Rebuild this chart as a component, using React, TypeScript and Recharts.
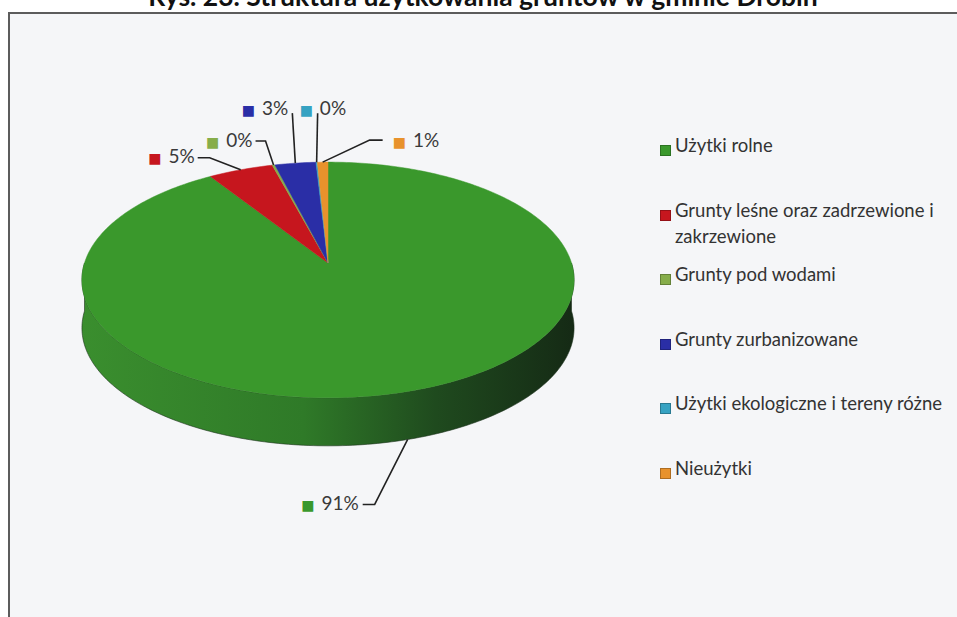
import React from "react";
import { PieChart, Pie, Legend } from "recharts";

// land-use structure, gmina Drobin
const categories = [
  "Użytki rolne",
  "Grunty leśne oraz zadrzewione i zakrzewione",
  "Grunty pod wodami",
  "Grunty zurbanizowane",
  "Użytki ekologiczne i tereny różne",
  "Nieużytki",
];
const shares = [90.9, 4.9, 0.2, 3.1, 0.1, 0.8];
const percentLabels = ["91%", "5%", "0%", "3%", "0%", "1%"];
const colors = ["#3a982c", "#c6161e", "#86ad4a", "#2a2ea6", "#36a2c2", "#e8922c"];

const data = categories.map((name, i) => ({ name, value: shares[i], fill: colors[i] }));

const FONT = "Lato, 'Open Sans', sans-serif";
const RY = 0.474; // vertical squash of the disc
const PERSP = 0.144; // far side drawn smaller
const DEPTH = 48;
const RAD = Math.PI / 180;

// label placement relative to the slice anchor (Excel-style manual positions)
const LABEL_LAYOUT = [
  { dx: -49, dy: 64, side: "end", ldx: -45, ldy: 65, edx: 12 },
  { dx: -46, dy: -13, side: "end", ldx: -43, ldy: -12, edx: 12 },
  { dx: -21, dy: -25, side: "end", ldx: -18, ldy: -24, edx: 10 },
  { dx: -7, dy: -55, side: "end", ldx: -3, ldy: -50, edx: 0 },
  { dx: -17, dy: -54, side: "start", ldx: 1, ldy: -49, edx: 0 },
  { dx: 70, dy: -22, side: "start", ldx: 60, ldy: -22, edx: -13 },
];

const proj = (cx: number, cy: number, r: number, a: number) => {
  const s = Math.sin(a * RAD);
  const w = 1 + PERSP * s;
  return [cx + (r * Math.cos(a * RAD)) / w, cy - (r * RY * s) / w];
};

const arcPoints = (cx: number, cy: number, r: number, from: number, to: number) => {
  const n = Math.max(2, Math.ceil(Math.abs(from - to)));
  const pts: number[][] = [];
  for (let i = 0; i <= n; i++) pts.push(proj(cx, cy, r, from + ((to - from) * i) / n));
  return pts;
};

const Slice3D = (props: any) => {
  const { cx, cy, outerRadius: r, startAngle, endAngle, fill, index } = props;
  const hi = Math.max(startAngle, endAngle);
  const lo = Math.min(startAngle, endAngle);
  const top = arcPoints(cx, cy, r, startAngle, endAngle);
  const topPath =
    `M${cx},${cy}` + top.map((p) => `L${p[0]},${p[1]}`).join("") + "Z";

  const sides: string[] = [];
  for (let k = -2; k <= 1; k++) {
    const a1 = Math.min(hi, 360 * k);
    const a2 = Math.max(lo, 360 * k - 180);
    if (a1 > a2) {
      const up = arcPoints(cx, cy, r, a1, a2);
      const down = up.map((p) => [p[0], p[1] + DEPTH]).reverse();
      sides.push(
        "M" + up.concat(down).map((p) => `${p[0]},${p[1]}`).join("L") + "Z"
      );
    }
  }
  const gid = `side-${index}`;
  return (
    <g>
      <defs>
        <linearGradient id={gid} x1="0" y1="0" x2="1" y2="0">
          <stop offset="0%" stopColor="#3a8e2e" />
          <stop offset="45%" stopColor="#2f7a28" />
          <stop offset="72%" stopColor="#1f4a1e" />
          <stop offset="100%" stopColor="#152a15" />
        </linearGradient>
      </defs>
      {sides.map((d, i) => (
        <path key={i} d={d} fill={`url(#${gid})`} stroke="#1c331c" strokeWidth={0.6} />
      ))}
      <path d={topPath} fill={fill} stroke={fill} strokeWidth={0.5} />
    </g>
  );
};

const renderLabel = (props: any) => {
  const { cx, cy, outerRadius, midAngle, index } = props;
  const lay = LABEL_LAYOUT[index];
  let [ax, ay] = proj(cx, cy, outerRadius, midAngle);
  if (Math.sin(midAngle * RAD) < 0) ay += DEPTH;
  const ex = ax + lay.ldx;
  const ey = ay + lay.ldy;
  return (
    <g key={`lbl-${index}`}>
      <polyline
        points={`${ax},${ay} ${ex + lay.edx},${ey} ${ex},${ey}`}
        fill="none"
        stroke="#222"
        strokeWidth={1.6}
      />
      <text
        x={ax + lay.dx}
        y={ay + lay.dy}
        dy="0.35em"
        textAnchor={lay.side}
        fontFamily={FONT}
        fontSize={19}
        fill="#3a3a3a"
      >
        <tspan fill={colors[index]} fontFamily="'DejaVu Sans'" fontSize={14}>
          ■
        </tspan>
        <tspan dx={7}>{percentLabels[index]}</tspan>
      </text>
    </g>
  );
};

// legend drawn in the category order of the data
const renderLegend = () => (
  <div style={{ fontFamily: FONT, fontSize: 18.5, color: "#333" }}>
    {categories.map((name, i) => (
      <div key={name} style={{ height: 64.5, display: "flex", alignItems: "flex-start" }}>
        <span
          style={{
            width: 9,
            height: 9,
            marginTop: 7,
            marginRight: 4,
            flex: "0 0 auto",
            background: colors[i],
            border: "1px solid rgba(0,0,0,0.25)",
          }}
        />
        <span style={{ lineHeight: "26px", marginTop: -6 }}>{name}</span>
      </div>
    ))}
  </div>
);

export default function App() {
  return (
    <div style={{ position: "relative", width: 957, height: 617, overflow: "hidden", background: "#fff" }}>
      <style>{"body{margin:0;overflow:hidden}"}</style>
      <div
        style={{
          position: "absolute",
          left: 8,
          top: 12,
          width: 1000,
          height: 700,
          border: "2px solid #5c5c5c",
          background: "#f5f6f8",
        }}
      />
      <div
        style={{
          position: "absolute",
          left: 0,
          width: 966,
          top: -17,
          textAlign: "center",
          fontFamily: FONT,
          fontWeight: 700,
          fontSize: 26.5,
          lineHeight: "26.5px",
          color: "#111",
        }}
      >
        Rys. 23. Struktura użytkowania gruntów w gminie Drobin
      </div>
      <div style={{ position: "absolute", left: 0, top: 0 }}>
        <PieChart width={957} height={617} margin={{ top: 0, right: 0, bottom: 0, left: 0 }}>
          <Pie
            data={data}
            dataKey="value"
            nameKey="name"
            cx={328}
            cy={263}
            outerRadius={243.5}
            startAngle={90}
            endAngle={-270}
            stroke="none"
            shape={Slice3D}
            label={renderLabel}
            labelLine={false}
            isAnimationActive={false}
          />
          <Legend
            layout="vertical"
            align="right"
            verticalAlign="top"
            content={renderLegend}
            wrapperStyle={{ left: 660, top: 138, width: 295, right: "auto" }}
          />
        </PieChart>
      </div>
    </div>
  );
}
